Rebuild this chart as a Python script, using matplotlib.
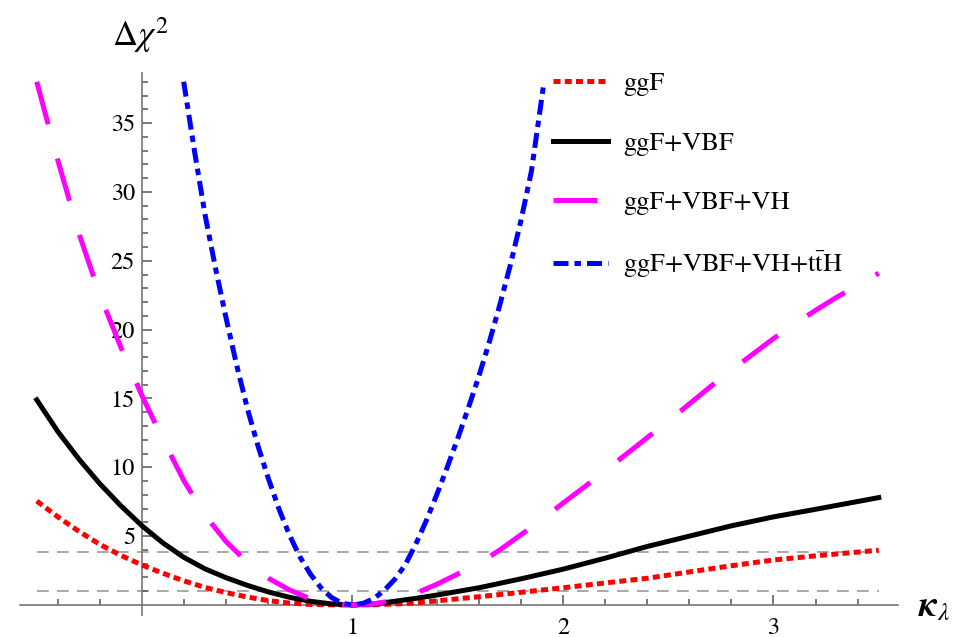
import matplotlib.pyplot as plt
from matplotlib.ticker import FixedLocator

plt.rcParams['font.family'] = 'STIXGeneral'
plt.rcParams['mathtext.fontset'] = 'stix'

# ggF
kappa_ggf = [-0.5, -0.4, -0.3, -0.2, -0.1, 0.0, 0.1, 0.2, 0.3, 0.4, 0.5, 0.6, 0.7, 0.8, 0.9,
             1.0, 1.1, 1.2, 1.3, 1.4, 1.6, 1.8, 2.0, 2.2, 2.4, 2.6, 2.8, 3.0, 3.2, 3.5]
chi2_ggf = [7.55, 6.4, 5.35, 4.4, 3.6, 2.9, 2.3, 1.75, 1.27, 0.9, 0.58, 0.32, 0.14, 0.04, 0.01,
            0.0, 0.02, 0.07, 0.15, 0.3, 0.6, 0.92, 1.25, 1.6, 1.94, 2.4, 2.85, 3.27, 3.57, 3.98]

# ggF+VBF
kappa_vbf = kappa_ggf
chi2_vbf = [14.9, 12.6, 10.6, 8.8, 7.2, 5.75, 4.5, 3.45, 2.62, 1.98, 1.43, 0.95, 0.56, 0.27, 0.08,
            0.0, 0.07, 0.27, 0.48, 0.72, 1.25, 1.9, 2.6, 3.4, 4.25, 5.0, 5.75, 6.4, 6.95, 7.8]

# ggF+VBF+VH
kappa_vh = [-0.5, -0.4, -0.3, -0.2, -0.1, 0.0, 0.1, 0.2, 0.3, 0.4, 0.5, 0.6, 0.7, 0.8, 0.9,
            1.0, 1.1, 1.2, 1.3, 1.4, 1.5, 1.6, 1.7, 1.8, 1.9, 2.0, 2.1, 2.2, 2.3, 2.4, 2.5,
            2.6, 2.7, 2.8, 2.9, 3.0, 3.1, 3.2, 3.3, 3.4, 3.5]
chi2_vh = [38.0, 32.3, 27.0, 22.5, 18.7, 15.2, 12.0, 9.0, 6.5, 4.6, 3.1, 1.95, 1.1, 0.45, 0.1,
           0.0, 0.08, 0.35, 0.85, 1.5, 2.25, 3.0, 4.0, 5.1, 6.2, 7.4, 8.55, 9.75, 10.95, 12.15, 13.35,
           14.6, 15.85, 17.05, 18.2, 19.35, 20.4, 21.4, 22.35, 23.2, 24.1]

# ggF+VBF+VH+ttH
kappa_tth = [0.198, 0.25, 0.3, 0.35, 0.4, 0.45, 0.5, 0.55, 0.6, 0.65, 0.7, 0.75, 0.8, 0.85,
             0.9, 0.95, 1.0, 1.05, 1.1, 1.15, 1.2, 1.25, 1.3, 1.35, 1.4, 1.45, 1.5, 1.55,
             1.6, 1.65, 1.7, 1.75, 1.8, 1.85, 1.91]
chi2_tth = [38.0, 32.9, 28.3, 24.4, 20.8, 17.4, 14.3, 11.6, 9.2, 7.0, 5.1, 3.5, 2.25, 1.25,
            0.55, 0.13, 0.0, 0.12, 0.45, 1.05, 1.85, 2.9, 4.4, 6.1, 8.0, 10.0, 12.1, 14.3,
            16.6, 19.1, 21.8, 24.7, 27.9, 31.5, 38.0]

levels = [1.0, 3.84]

W, H = 967, 637
fig = plt.figure(figsize=(W / 100, H / 100), dpi=100)
ax = fig.add_axes([0, 0, 1, 1])

# pixel layout: x=0 at 142 px, 210.5 px per unit; y=0 at 605 px from top, 13.77 px per unit
ax.set_xlim(-142 / 210.5, (W - 142) / 210.5)
ax.set_ylim(-(H - 605) / 13.77, 605 / 13.77)

ax.hlines(levels, -0.5, 3.5, colors='#999999', linewidth=1.2, linestyles=(0, (7, 5)), zorder=1)

lw = 3.6
ax.plot(kappa_ggf, chi2_ggf, color='#ff0000', lw=lw, dashes=(1.4, 0.85), label='ggF', zorder=3)
ax.plot(kappa_vbf, chi2_vbf, color='black', lw=lw, label='ggF+VBF', zorder=3)
ax.plot(kappa_vh, chi2_vh, color='#ff00ff', lw=lw, dashes=(8.8, 7.1), label='ggF+VBF+VH', zorder=3)
ax.plot(kappa_tth, chi2_tth, color='#0000ff', lw=lw, dashes=(3.0, 1.2, 1.3, 1.2),
        label='ggF+VBF+VH+t$\\bar{\\mathrm{t}}$H', zorder=3)

for s in ['top', 'right']:
    ax.spines[s].set_visible(False)
ax.spines['left'].set_position(('data', 0))
ax.spines['bottom'].set_position(('data', 0))
ax.spines['bottom'].set_bounds(-0.58, 3.59)
ax.spines['left'].set_bounds(-0.7, 38.6)
for s in ['left', 'bottom']:
    ax.spines[s].set_color('#777777')
    ax.spines[s].set_linewidth(1.2)

ax.xaxis.set_major_locator(FixedLocator([1, 2, 3]))
ax.xaxis.set_minor_locator(FixedLocator([-0.4, -0.2, 0.2, 0.4, 0.6, 0.8, 1.2, 1.4, 1.6, 1.8,
                                         2.2, 2.4, 2.6, 2.8, 3.2, 3.4]))
ax.yaxis.set_major_locator(FixedLocator([5, 10, 15, 20, 25, 30, 35]))
ax.yaxis.set_minor_locator(FixedLocator([v for v in range(1, 39) if v % 5 != 0]))

ax.tick_params(which='both', direction='in', color='#555555', width=1.1, labelsize=17.5)
ax.tick_params(which='major', length=7.5)
ax.tick_params(which='minor', length=4.5)
ax.tick_params(axis='x', which='major', pad=9)
ax.tick_params(axis='y', which='major', pad=5)

ax.text(140 / W, 1 - 35 / H, r'$\Delta\chi^2$', transform=ax.transAxes,
        ha='center', va='center', fontsize=25)
ax.text(934 / W, 1 - 608 / H, r'$\boldsymbol{\kappa}_{\lambda}$', transform=ax.transAxes,
        ha='center', va='center', fontsize=26)

ax.legend(loc='upper left', bbox_to_anchor=(553 / W, 1 - 72 / H), frameon=False,
          fontsize=19, handlelength=2.1, handletextpad=0.55, labelspacing=1.32,
          borderpad=0, borderaxespad=0)

fig.savefig('out.png', dpi=100)
